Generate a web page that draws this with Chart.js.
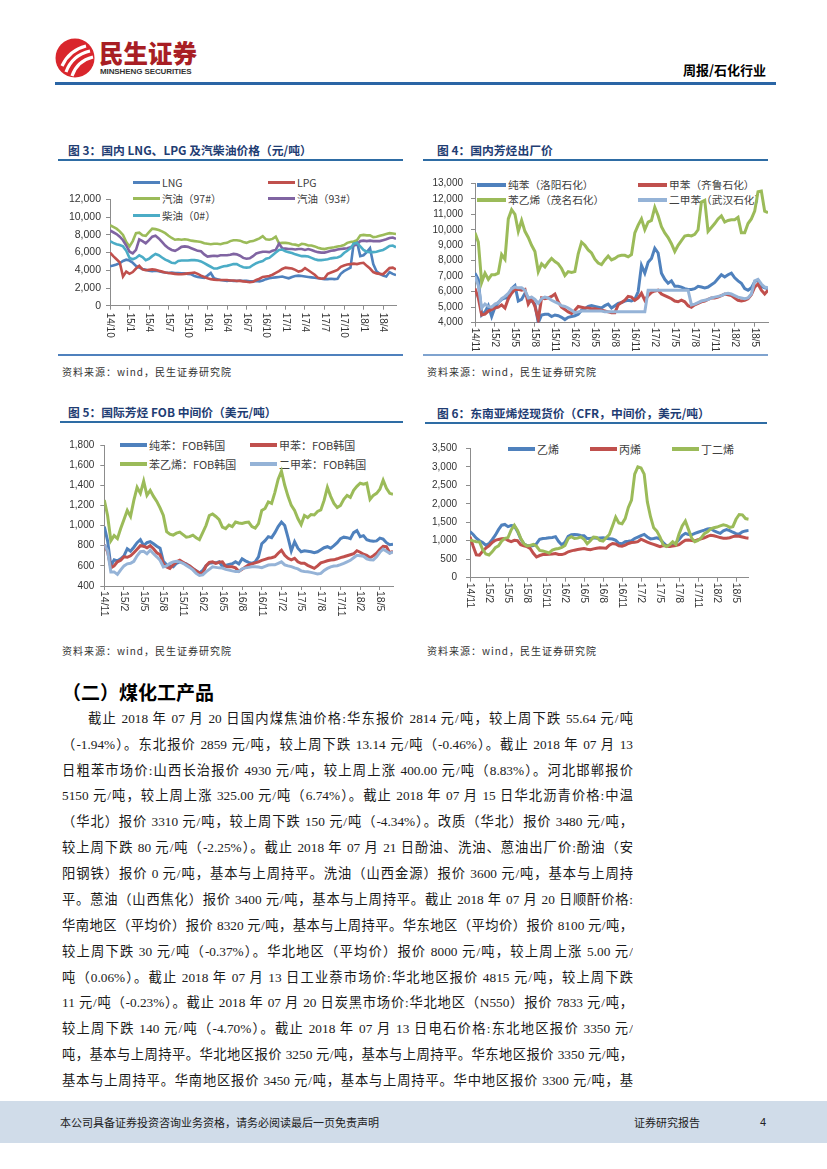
<!DOCTYPE html>
<html>
<head>
<meta charset="utf-8">
<script src="https://cdn.jsdelivr.net/npm/chart.js@4.4.1/dist/chart.umd.min.js"></script>
<style>
body{margin:0;background:#fff;}
#page{position:relative;width:827px;height:1169px;overflow:hidden;background:#fff;font-family:"Noto Sans CJK SC","Liberation Sans",sans-serif;color:#000;}
.a{position:absolute;}
.ttl{font-size:11.8px;font-weight:700;color:#1f3d73;white-space:nowrap;line-height:14px;}
.rule{height:2px;background:#2e6ca4;}
.src{font-size:10px;letter-spacing:1px;color:#333;line-height:12px;white-space:nowrap;}
.ln{left:62px;width:571px;height:25px;line-height:25px;overflow:hidden;font-size:13.3px;color:#1a1a1a;
    font-family:"Liberation Serif","Noto Sans CJK SC",serif;text-align:justify;text-align-last:justify;}
.chart{position:absolute;z-index:2;}
.lg{position:absolute;z-index:1;display:flex;align-items:center;height:16px;white-space:nowrap;color:#404040;}
.lg i{display:inline-block;margin-right:2px;}
</style>
</head>
<body>
<div id="page">
  <!-- header -->
  <svg class="a" style="left:55px;top:38px" width="40" height="40" viewBox="0 0 40 40">
    <circle cx="20" cy="20" r="19.5" fill="#d9262c"/>
    <path d="M7 28 C12 17, 19 11, 31 8" stroke="#fff" stroke-width="3.2" fill="none"/>
    <path d="M11 34 C15 23, 22 16, 35 13" stroke="#fff" stroke-width="3.2" fill="none"/>
    <path d="M17 38 C20 29, 26 22, 38 19" stroke="#fff" stroke-width="3.2" fill="none"/>
  </svg>
  <div class="a" style="left:99px;top:39px;font-size:24.5px;font-weight:900;color:#a81e24;line-height:28px;">民生证券</div>
  <div class="a" style="left:100px;top:67px;font-family:'Liberation Sans';font-size:8px;font-weight:700;color:#333;line-height:10px;letter-spacing:-0.1px;">MINSHENG SECURITIES</div>
  <div class="a" style="left:683px;top:62px;font-size:13px;font-weight:700;line-height:16px;">周报/石化行业</div>
  <div class="a" style="left:55px;top:82px;width:721px;height:3px;background:#2a65a5;"></div>

  <!-- figure titles -->
  <div class="a ttl" style="left:68px;top:143px;">图 3：国内 LNG、LPG 及汽柴油价格（元/吨）</div>
  <div class="a rule" style="left:58px;top:159px;width:345px;"></div>
  <div class="a ttl" style="left:437px;top:143px;">图 4：国内芳烃出厂价</div>
  <div class="a rule" style="left:423px;top:159px;width:345px;"></div>
  <div class="a ttl" style="left:68px;top:405px;">图 5：国际芳烃 FOB 中间价（美元/吨）</div>
  <div class="a rule" style="left:60px;top:421px;width:343px;"></div>
  <div class="a ttl" style="left:437px;top:406px;">图 6：东南亚烯烃现货价（CFR，中间价，美元/吨）</div>
  <div class="a rule" style="left:425px;top:422px;width:342px;"></div>

  <div class="a" style="left:58px;top:354px;width:345px;height:2px;background:#4f81bd;"></div>
  <div class="a" style="left:423px;top:354px;width:345px;height:1.5px;background:#7fa3cf;"></div>

  <div class="a src" style="left:62px;top:366px;">资料来源：wind，民生证券研究院</div>
  <div class="a src" style="left:427px;top:366px;">资料来源：wind，民生证券研究院</div>
  <div class="a src" style="left:62px;top:645px;">资料来源：wind，民生证券研究院</div>
  <div class="a src" style="left:427px;top:645px;">资料来源：wind，民生证券研究院</div>

  <!-- text section -->
  <div class="a" style="left:62px;top:679px;font-size:19px;font-weight:700;line-height:26px;">（二）煤化工产品</div>
  <div class="a ln" style="top:706px;text-indent:26px;">截止 2018 年 07 月 20 日国内煤焦油价格:华东报价 2814 元/吨，较上周下跌 55.64 元/吨</div>
  <div class="a ln" style="top:732px;">（-1.94%）。东北报价 2859 元/吨，较上周下跌 13.14 元/吨（-0.46%）。截止 2018 年 07 月 13</div>
  <div class="a ln" style="top:758px;">日粗苯市场价:山西长治报价 4930 元/吨，较上周上涨 400.00 元/吨（8.83%）。河北邯郸报价</div>
  <div class="a ln" style="top:783px;">5150 元/吨，较上周上涨 325.00 元/吨（6.74%）。截止 2018 年 07 月 15 日华北沥青价格:中温</div>
  <div class="a ln" style="top:809px;">（华北）报价 3310 元/吨，较上周下跌 150 元/吨（-4.34%）。改质（华北）报价 3480 元/吨，</div>
  <div class="a ln" style="top:835px;">较上周下跌 80 元/吨（-2.25%）。截止 2018 年 07 月 21 日酚油、洗油、蒽油出厂价:酚油（安</div>
  <div class="a ln" style="top:861px;">阳钢铁）报价 0 元/吨，基本与上周持平。洗油（山西金源）报价 3600 元/吨，基本与上周持</div>
  <div class="a ln" style="top:887px;">平。蒽油（山西焦化）报价 3400 元/吨，基本与上周持平。截止 2018 年 07 月 20 日顺酐价格:</div>
  <div class="a ln" style="top:913px;">华南地区（平均价）报价 8320 元/吨，基本与上周持平。华东地区（平均价）报价 8100 元/吨，</div>
  <div class="a ln" style="top:939px;">较上周下跌 30 元/吨（-0.37%）。华北地区（平均价）报价 8000 元/吨，较上周上涨 5.00 元/</div>
  <div class="a ln" style="top:965px;">吨（0.06%）。截止 2018 年 07 月 13 日工业萘市场价:华北地区报价 4815 元/吨，较上周下跌</div>
  <div class="a ln" style="top:990px;">11 元/吨（-0.23%）。截止 2018 年 07 月 20 日炭黑市场价:华北地区（N550）报价 7833 元/吨，</div>
  <div class="a ln" style="top:1016px;">较上周下跌 140 元/吨（-4.70%）。截止 2018 年 07 月 13 日电石价格:东北地区报价 3350 元/</div>
  <div class="a ln" style="top:1042px;">吨，基本与上周持平。华北地区报价 3250 元/吨，基本与上周持平。华东地区报价 3350 元/吨，</div>
  <div class="a ln" style="top:1068px;">基本与上周持平。华南地区报价 3450 元/吨，基本与上周持平。华中地区报价 3300 元/吨，基</div>

  <!-- footer -->
  <div class="a" style="left:0;top:1101px;width:827px;height:42px;background:#d0dce9;"></div>
  <div class="a" style="left:60px;top:1114px;font-size:11px;line-height:16px;color:#222;">本公司具备证券投资咨询业务资格，请务必阅读最后一页免责声明</div>
  <div class="a" style="left:634px;top:1114px;font-size:11px;line-height:16px;color:#222;">证券研究报告</div>
  <div class="a" style="left:760px;top:1114px;font-size:11px;line-height:16px;color:#222;font-family:'Liberation Sans';">4</div>
</div>

<script>
// x axis tick labels, one every 3 months
var months3 = ['14/10','15/1','15/4','15/7','15/10','16/1','16/4','16/7','16/10','17/1','17/4','17/7','17/10','18/1','18/4'];
var months = ['14/11','15/2','15/5','15/8','15/11','16/2','16/5','16/8','16/11','17/2','17/5','17/8','17/11','18/2','18/5'];

// fig 3, yuan/t, two readings per month
var lng = [4450,4550,4650,4800,5050,5200,5100,4850,4500,4300,
  4150,4050,3950,3900,3950,3900,3800,3750,3700,3750,
  3700,3700,3650,3650,3600,3550,3350,3250,3200,3150,
  3400,3700,3100,3000,2900,2850,2800,2850,2800,2800,
  2850,2800,2800,2750,2750,2800,2750,2850,3000,3100,
  3150,3200,3250,3300,3200,3100,3250,3350,3400,3350,
  3300,3250,3200,3150,3100,3050,3000,3000,3050,3000,
  3050,3600,3900,4100,4300,7100,7200,5600,5700,6050,
  6500,4700,3900,3600,3400,3300,3800,3600,3450];
var lpg = [6000,5600,5250,4900,3300,3850,3600,3800,4200,4500,
  4100,4000,4050,4100,4050,3950,3850,3750,3700,3650,
  3600,3550,3550,3600,3650,3700,3750,3600,3400,3250,
  3100,3000,2950,2900,2900,2900,2900,2850,2850,2800,
  2800,2750,2700,2650,2700,2900,3050,3250,3300,3350,
  3500,3700,3900,4150,4300,4250,4200,4050,3850,3950,
  4250,4000,3750,3500,3150,3050,3100,3600,3750,3900,
  4050,4400,4550,4650,4700,4750,4700,4800,4850,4500,
  4200,3800,3650,3600,3550,3900,4250,4300,4100];
var gas97 = [9100,8900,8700,8400,8000,7200,6700,7300,8200,8250,
  7950,7900,8300,8700,8650,8550,8400,8200,7900,7650,
  7450,7500,7450,7500,7450,7350,7300,7250,7200,7050,
  7000,6950,7000,7000,6950,7050,7100,7300,7400,7400,
  7350,7200,7100,7250,7300,7450,7600,7850,7500,7450,
  7550,7800,7050,7100,7100,7050,6950,6900,6800,7000,
  6950,6800,6800,6700,6550,6450,6400,6500,6550,6600,
  6700,6750,6850,7100,7200,7250,7400,7950,8000,7950,
  7950,7750,7800,7900,8000,8100,8200,8150,8100];
var gas93 = [8500,8300,8100,7800,7400,6800,6100,5900,6300,7500,
  7300,7050,7400,7800,7900,7600,7200,6800,6500,6300,
  6200,6400,6650,6700,6650,6500,6350,6200,6150,5800,
  5550,5600,5650,5600,5700,5700,5700,5750,5850,5800,
  5650,5400,5300,5350,5600,5900,6000,6100,6100,6050,
  6200,6300,7000,6500,6450,6400,6400,6350,6400,6400,
  6300,6400,6300,6150,6050,6000,6000,6100,6200,6250,
  6350,6400,6450,6500,6600,6800,6900,7300,7350,7300,
  7350,7300,7300,7300,7400,7500,7650,7700,7550];
var diesel = [7300,7100,6950,6850,6700,6200,5400,5250,5400,5700,
  5500,5150,5300,5600,5850,5700,5450,5200,5050,4850,
  4800,5050,5100,5100,5100,5150,5150,5100,5000,4800,
  4600,4400,4200,4200,4350,4450,4500,4600,4700,4700,
  4500,4350,4300,4350,4600,4800,4950,5050,5300,5400,
  5700,6000,6300,6350,6150,6050,5950,5800,5700,5600,
  5600,5550,5400,5250,5150,5150,5200,5250,5350,5400,
  5450,5600,5950,6200,6500,7000,7100,6700,6300,6100,
  6050,6050,6100,6200,6300,6500,6750,6800,6600];

// fig 4, yuan/t
var benzene = [7200,6800,4500,4700,5100,4400,5000,5300,5500,5600,
  5600,6200,6400,5400,5500,5900,5600,5400,5200,4000,
  4500,4550,4550,4400,4500,4450,4350,4200,4350,4400,
  4450,4550,4800,4900,5050,5100,5050,5000,4950,5100,
  5200,4950,5100,5250,5300,5400,5450,5400,5500,6000,
  7700,7200,7900,8150,8800,8500,7200,6800,6550,6700,
  6350,6350,6300,6200,6150,6150,6200,6350,6300,6250,
  6300,6450,6600,6850,7100,6950,7100,7200,6900,6700,
  6550,6200,6100,6250,6650,6750,6350,6250,6200];
var toluene = [6200,5600,4500,4550,4750,4850,4950,5000,5150,4950,
  5550,5900,6150,6150,6100,6150,5200,5550,5050,4200,
  5600,5550,5600,5700,5850,5350,5000,4850,4700,4600,
  4800,5050,5000,4950,4950,4900,4900,4850,4800,4750,
  4700,4650,4650,5150,5300,5450,5700,5650,5450,5600,
  5900,5450,5750,5950,6050,6100,5850,5750,5650,5550,
  5400,5350,5450,5350,5100,5000,5150,5250,5350,5400,
  5500,5600,5600,5650,5750,5850,5800,5750,5600,5450,
  5400,5450,5550,5800,6300,6500,6100,5850,6100];
var styrene = [9800,9200,6600,7200,6800,7100,7100,7200,8400,8100,
  10700,11300,11000,9900,10600,9900,9500,9000,8600,7300,
  7800,7600,7900,8150,7950,7800,7500,7050,7300,7250,
  7300,8450,9200,9000,8700,8500,8100,7850,7750,8050,
  8300,8050,8150,8300,8350,8350,8250,8400,9800,10300,
  10700,10000,10500,10600,11450,10900,10200,9800,9500,9100,
  8600,9000,9300,9600,9650,9600,9700,10000,11800,11900,
  9900,10150,10400,10700,10900,10500,10600,10650,10650,10800,
  9800,9800,10400,10700,11200,12450,12500,11200,11100];
var xylene = [7000,6400,4950,5200,5050,5000,5200,5300,5550,5700,
  5900,6200,6300,6250,6250,6100,5600,5650,5500,5250,
  5550,5650,5600,5450,5350,5250,5100,5050,4950,4800,
  4650,4700,4750,4750,4750,4750,4750,4750,4750,4700,
  4700,4700,4700,4700,4700,4700,4700,4700,4700,4700,
  4700,4700,6100,6100,6100,6100,6100,6100,6100,6100,
  6100,6100,6100,6100,6100,5150,5200,5300,5400,5450,
  5500,5600,5650,5700,5750,5850,5900,5850,5750,5650,
  5600,5550,5600,5850,6700,6800,6500,6300,6250];

// fig 5, usd/t
var benzeneFob = [990,850,600,660,650,670,700,770,745,785,
  830,860,800,830,840,820,795,775,645,610,
  600,590,625,640,630,620,595,570,550,530,
  555,600,625,630,630,640,595,605,615,620,
  640,620,670,650,635,625,640,690,820,850,
  890,880,930,990,1035,1000,880,750,840,775,
  740,750,745,740,730,740,760,780,790,775,
  800,830,870,885,880,870,930,950,890,900,
  860,850,845,848,875,865,830,810,815];
var tolueneFob = [810,740,580,600,640,655,690,685,700,730,
  765,800,795,780,800,770,730,710,620,590,
  575,610,640,655,635,615,600,575,550,530,
  525,600,635,640,625,635,640,595,590,590,
  580,545,565,590,610,620,630,640,655,665,
  675,680,690,725,755,705,675,660,675,640,
  625,625,605,590,575,600,630,640,650,658,
  660,670,682,690,700,710,720,750,735,715,
  705,680,700,725,765,795,790,730,745];
var styreneFob = [1254,1100,850,900,870,970,1060,1150,1090,1250,
  1380,1320,1440,1300,1350,1290,1240,1175,1100,940,
  915,905,925,935,910,885,890,905,880,860,
  930,1000,1100,1115,1090,1060,985,970,1005,990,
  1035,1025,1020,1030,1035,990,975,1020,1150,1170,
  1235,1220,1330,1460,1540,1400,1290,1200,1150,1070,
  1010,1100,1080,1110,1105,1140,1155,1250,1380,1290,
  1220,1180,1200,1260,1300,1280,1350,1390,1420,1410,
  1420,1260,1300,1320,1360,1450,1370,1320,1310];
var xyleneFob = [810,750,540,540,515,560,600,620,625,645,
  700,740,745,720,755,720,690,655,590,600,
  625,640,645,640,625,605,585,560,525,505,
  510,540,565,590,585,580,578,565,558,550,
  545,545,570,580,585,590,592,588,582,595,
  608,610,610,625,640,610,600,592,580,570,
  550,545,542,535,528,520,525,555,575,590,
  598,602,612,625,640,655,680,705,700,695,
  670,660,658,690,735,765,745,725,740];

// fig 6, usd/t
var ethylene = [1250,1170,1070,1000,950,880,920,1030,1150,1300,
  1420,1440,1380,1410,1400,1250,1050,920,870,860,
  870,920,1040,1060,1065,1080,1090,1110,980,885,
  960,1120,1165,1170,1160,1145,1135,1060,1060,1080,
  1065,1075,1080,1065,1055,1045,1010,930,920,975,
  985,1000,1060,1100,1140,1170,1100,1050,1060,1080,
  1040,950,870,845,890,940,1030,1140,1200,1170,
  1160,1200,1230,1260,1285,1320,1330,1270,1230,1200,
  1270,1300,1275,1230,1190,1180,1240,1265,1280];
var propylene = [1110,850,620,610,720,800,860,950,1010,1035,
  1055,1060,1010,975,1010,1000,890,865,840,790,
  660,560,600,625,630,632,640,655,630,625,
  650,700,725,745,760,775,790,770,755,780,
  795,810,805,800,880,925,910,860,850,880,
  925,950,960,975,1040,1000,960,930,900,870,
  840,870,860,845,855,870,895,960,1015,1020,
  1005,995,1030,1055,1080,1120,1150,1135,1110,1085,
  1070,1065,1080,1110,1130,1120,1100,1080,1065];
var butadiene = [1020,995,975,970,760,640,615,700,810,860,
  990,1065,1085,1290,1420,1280,1070,920,860,870,
  900,850,740,720,700,670,750,775,790,820,
  870,1060,1110,1060,1070,1105,1040,920,1000,1100,
  1090,1010,990,1080,1170,1400,1640,1480,1460,1600,
  1900,2100,2800,3000,2970,2800,2050,1650,1350,1260,
  1100,890,845,890,970,900,1180,1400,1530,1300,
  1070,975,1010,1075,1190,1240,1320,1350,1370,1400,
  1430,1410,1360,1380,1580,1710,1700,1600,1580];

var BLUE = '#4F81BD', RED = '#C0504D', GREEN = '#9BBB59', PURPLE = '#8064A2', CYAN = '#4BACC6', LIGHT = '#95B3D7';
var AXIS = '#8c8c8c';

Chart.defaults.font.family = 'Liberation Sans';

// two readings per month -> x in months
function pts(arr){
  return arr.map(function(v, i){ return {x: i / 2, y: v}; });
}

function lineChart(o){
  var page = document.getElementById('page');
  var wrap = document.createElement('div');
  wrap.className = 'chart';
  wrap.style.left = o.left + 'px';
  wrap.style.top = o.top + 'px';
  var cv = document.createElement('canvas');
  cv.width = o.w;
  cv.height = o.h;
  wrap.appendChild(cv);
  page.appendChild(wrap);

  var n = o.series.length;
  var ds = o.series.map(function(s, i){
    return {
      label: s.name, data: pts(s.data), borderColor: s.color, backgroundColor: s.color,
      borderWidth: o.lw, pointRadius: 0, tension: 0, fill: false, order: n - i
    };
  });

  new Chart(cv.getContext('2d'), {
    type: 'line',
    data: {datasets: ds},
    options: {
      responsive: false,
      animation: false,
      events: [],
      layout: {padding: {top: o.padTop, right: o.padRight, left: 0, bottom: 0}},
      plugins: {legend: {display: false}, tooltip: {enabled: false}},
      scales: {
        x: {
          type: 'linear', min: 0, max: 44,
          ticks: {display: false},
          // one tick per label, every 3 months
          afterBuildTicks: function(s){
            s.ticks = o.labels.map(function(l, i){ return {value: i * 3}; });
          },
          afterFit: function(s){ s.height = o.xH; },
          grid: {display: true, drawOnChartArea: false, drawTicks: true, tickLength: 4, color: AXIS},
          border: {display: true, color: AXIS, width: 1}
        },
        y: {
          min: o.min, max: o.max,
          ticks: {
            stepSize: o.step, padding: o.yPad, color: '#333',
            font: {size: o.yFont},
            callback: function(v){ return v.toLocaleString('en-US'); }
          },
          afterFit: function(s){ s.width = o.yW; },
          grid: {display: true, drawOnChartArea: false, drawTicks: true, tickLength: 4, color: AXIS},
          border: {display: true, color: AXIS, width: 1}
        }
      }
    },
    plugins: [{
      id: 'vlabels',
      afterDraw: function(c){
        var ctx = c.ctx, xs = c.scales.x, base = c.chartArea.bottom + o.xGap;
        ctx.save();
        ctx.fillStyle = '#333';
        ctx.font = o.xFont + 'px "Liberation Sans"';
        ctx.textAlign = 'left';
        ctx.textBaseline = 'middle';
        xs.ticks.forEach(function(t){
          var lab = o.labels[Math.round(t.value / 3)];
          if (!lab) return;
          ctx.save();
          ctx.translate(xs.getPixelForValue(t.value), base);
          ctx.rotate(Math.PI / 2);
          ctx.fillText(lab, 0, 0);
          ctx.restore();
        });
        ctx.restore();
      }
    }]
  });

  // legend
  o.series.forEach(function(s, i){
    var p = o.legend[i];
    var d = document.createElement('div');
    d.className = 'lg';
    d.style.left = p[0] + 'px';
    d.style.top = (p[1] - 8) + 'px';
    d.style.fontSize = o.lgFont + 'px';
    d.innerHTML = '<i style="background:' + s.color + ';width:' + o.lgLen + 'px;height:' + o.lgThick + 'px"></i><span>' + s.name + '</span>';
    page.appendChild(d);
  });
}

lineChart({
  left: 55, top: 165, w: 355, h: 190,
  padTop: 34.5, padRight: 14, yW: 55, xH: 49.3,
  min: 0, max: 12000, step: 2000, yPad: 5, yFont: 10.5,
  labels: months3, xGap: 7, xFont: 10, lw: 2.6,
  lgFont: 10.5, lgLen: 27, lgThick: 3,
  legend: [[133, 182], [268, 182], [133, 198.5], [268, 198.5], [133, 215]],
  series: [
    {name: 'LNG', data: lng, color: BLUE},
    {name: 'LPG', data: lpg, color: RED},
    {name: '汽油（97#）', data: gas97, color: GREEN},
    {name: '汽油（93#）', data: gas93, color: PURPLE},
    {name: '柴油（0#）', data: diesel, color: CYAN}
  ]
});

lineChart({
  left: 420, top: 165, w: 355, h: 186,
  padTop: 18.3, padRight: 7, yW: 55, xH: 28.3,
  min: 4000, max: 13000, step: 1000, yPad: 8, yFont: 10,
  labels: months, xGap: 5, xFont: 10, lw: 3,
  lgFont: 10.7, lgLen: 29, lgThick: 4,
  legend: [[477, 184.5], [638, 184.5], [477, 199.5], [638, 199.5]],
  series: [
    {name: '纯苯（洛阳石化）', data: benzene, color: BLUE},
    {name: '甲苯（齐鲁石化）', data: toluene, color: RED},
    {name: '苯乙烯（茂名石化）', data: styrene, color: GREEN},
    {name: '二甲苯（武汉石化）', data: xylene, color: LIGHT}
  ]
});

lineChart({
  left: 55, top: 425, w: 350, h: 215,
  padTop: 20, padRight: 12, yW: 49.3, xH: 54,
  min: 400, max: 1800, step: 200, yPad: 6, yFont: 10,
  labels: months, xGap: 5, xFont: 10.5, lw: 3,
  lgFont: 11, lgLen: 27, lgThick: 4,
  legend: [[120, 444.5], [250, 444.5], [120, 463.5], [250, 463.5]],
  series: [
    {name: '纯苯：FOB韩国', data: benzeneFob, color: BLUE},
    {name: '甲苯：FOB韩国', data: tolueneFob, color: RED},
    {name: '苯乙烯：FOB韩国', data: styreneFob, color: GREEN},
    {name: '二甲苯：FOB韩国', data: xyleneFob, color: LIGHT}
  ]
});

lineChart({
  left: 420, top: 425, w: 355, h: 215,
  padTop: 23.3, padRight: 26.3, yW: 50, xH: 62.3,
  min: 0, max: 3500, step: 500, yPad: 9, yFont: 10,
  labels: months, xGap: 5, xFont: 10.5, lw: 3,
  lgFont: 11, lgLen: 27, lgThick: 4,
  legend: [[508, 448.5], [590, 448.5], [672, 448.5]],
  series: [
    {name: '乙烯', data: ethylene, color: BLUE},
    {name: '丙烯', data: propylene, color: RED},
    {name: '丁二烯', data: butadiene, color: GREEN}
  ]
});
</script>
</body>
</html>
